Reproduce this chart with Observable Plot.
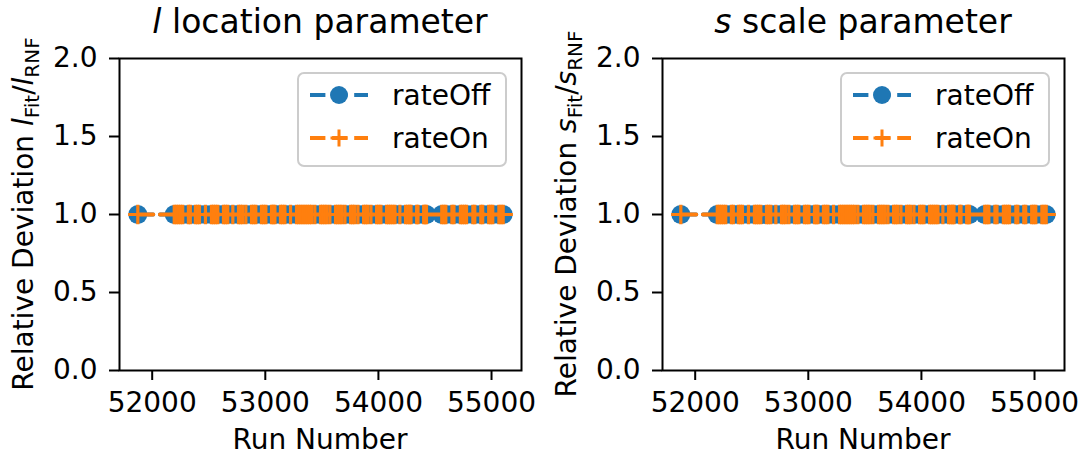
<!DOCTYPE html>
<html><head><meta charset="utf-8">
<script src="https://cdn.jsdelivr.net/npm/d3@7"></script>
<script src="https://cdn.jsdelivr.net/npm/@observablehq/plot@0.6"></script>
<style>
body{margin:0;background:#fff;font-family:"DejaVu Sans",sans-serif;}
#row{display:flex;width:1086px;height:462px;}
</style></head><body><div id="row"></div>
<script>
const runNumbers = [
  51873,
  52195, 52213, 52231, 52250, 52270, 52320, 52337, 52382, 52400, 52418,
  52471, 52524, 52542, 52560, 52580, 52630, 52648, 52668, 52713, 52763,
  52780, 52800, 52828, 52878, 52897, 52916, 52966, 52985, 53005, 53055,
  53070, 53085, 53134, 53153, 53173, 53223, 53276, 53295, 53314, 53333,
  53352, 53371, 53390, 53410, 53438, 53488, 53507, 53526, 53545, 53571,
  53621, 53640, 53659, 53678, 53704, 53754, 53772, 53790, 53819, 53869,
  53887, 53905, 53934, 53984, 54003, 54022, 54072, 54090, 54108, 54127,
  54146, 54190, 54240, 54258, 54276, 54288, 54338, 54350, 54400, 54413,
  54425,
  54560, 54578, 54596, 54650, 54668, 54725, 54743, 54761, 54779, 54835,
  54852, 54905, 54922, 54975, 54993, 55011, 55065, 55084, 55103
];
const locationRateOff = [
  1,
  1,1,1,1,1,1,1,1,1,1, 1,1,1,1,1,1,1,1,1,1, 1,1,1,1,1,1,1,1,1,1, 1,1,1,1,1,1,1,1,1,1,
  1,1,1,1,1,1,1,1,1,1, 1,1,1,1,1,1,1,1,1,1, 1,1,1,1,1,1,1,1,1,1, 1,1,1,1,1,1,1,1,1,1,
  1,
  1,1,1,1,1,1,1,1,1,1, 1,1,1,1,1,1,1,1,1
];
const locationRateOn = [
  1,
  1,1,1,1,1,1,1,1,1,1, 1,1,1,1,1,1,1,1,1,1, 1,1,1,1,1,1,1,1,1,1, 1,1,1,1,1,1,1,1,1,1,
  1,1,1,1,1,1,1,1,1,1, 1,1,1,1,1,1,1,1,1,1, 1,1,1,1,1,1,1,1,1,1, 1,1,1,1,1,1,1,1,1,1,
  1,
  1,1,1,1,1,1,1,1,1,1, 1,1,1,1,1,1,1,1,1
];
const scaleRateOff = [
  1,
  1,1,1,1,1,1,1,1,1,1, 1,1,1,1,1,1,1,1,1,1, 1,1,1,1,1,1,1,1,1,1, 1,1,1,1,1,1,1,1,1,1,
  1,1,1,1,1,1,1,1,1,1, 1,1,1,1,1,1,1,1,1,1, 1,1,1,1,1,1,1,1,1,1, 1,1,1,1,1,1,1,1,1,1,
  1,
  1,1,1,1,1,1,1,1,1,1, 1,1,1,1,1,1,1,1,1
];
const scaleRateOn = [
  1,
  1,1,1,1,1,1,1,1,1,1, 1,1,1,1,1,1,1,1,1,1, 1,1,1,1,1,1,1,1,1,1, 1,1,1,1,1,1,1,1,1,1,
  1,1,1,1,1,1,1,1,1,1, 1,1,1,1,1,1,1,1,1,1, 1,1,1,1,1,1,1,1,1,1, 1,1,1,1,1,1,1,1,1,1,
  1,
  1,1,1,1,1,1,1,1,1,1, 1,1,1,1,1,1,1,1,1
];
const xTicks = [52000, 53000, 54000, 55000];
const yTicks = [0, 0.5, 1.0, 1.5, 2.0];
const seriesNames = ["rateOff", "rateOn"];
const panelSymbols = ["l", "s"];
const panelTitles = [" location parameter", " scale parameter"];

const BLUE = "#1f77b4", ORANGE = "#ff7f0e";
const DASH = "15.4,6.7";
const FONT = "DejaVu Sans";

function makePanel(symbol, title, offVals, onVals) {
  const off = runNumbers.map((r, i) => ({run: r, value: offVals[i]}));
  const on = runNumbers.map((r, i) => ({run: r, value: onVals[i]}));
  const chart = Plot.plot({
    width: 543, height: 462,
    marginLeft: 119, marginRight: 22, marginTop: 58, marginBottom: 92,
    style: {fontFamily: FONT, fontSize: "28px", color: "black", background: "white", overflow: "visible"},
    x: {domain: [51711, 55265]},
    y: {domain: [0, 2]},
    marks: [
      Plot.line(off, {x: "run", y: "value", stroke: BLUE, strokeWidth: 4, strokeDasharray: DASH}),
      Plot.dot(off, {x: "run", y: "value", r: 9.5, fill: BLUE, stroke: "none"}),
      Plot.line(on, {x: "run", y: "value", stroke: ORANGE, strokeWidth: 4, strokeDasharray: DASH}),
      Plot.dot(on, {x: "run", y: "value", symbol: "plus", r: 6.3, fill: "none", stroke: ORANGE, strokeWidth: 3.2}),
      Plot.frame({stroke: "black", strokeWidth: 2}),
      Plot.axisX({ticks: xTicks, tickFormat: "d", tickSize: 10, tickPadding: 12, strokeWidth: 2, fontSize: 28, label: null}),
      Plot.axisY({ticks: yTicks, tickFormat: ".1f", tickSize: 10, tickPadding: 12, strokeWidth: 2, fontSize: 28, label: null})
    ]
  });
  const svg = d3.select(chart);
  const cx = 119 + (543 - 119 - 22) / 2;

  // title
  const t = svg.append("text").attr("x", cx).attr("y", 33).attr("text-anchor", "middle")
    .attr("fill", "black").style("font-size", "33px").style("font-family", FONT);
  t.append("tspan").attr("font-style", "italic").text(symbol);
  t.append("tspan").text(title);

  // x label
  svg.append("text").attr("x", cx).attr("y", 449).attr("text-anchor", "middle")
    .attr("fill", "black").style("font-size", "28px").style("font-family", FONT).text("Run Number");

  // y label
  const yl = svg.append("text").attr("transform", "translate(33,214) rotate(-90)")
    .attr("text-anchor", "middle").attr("fill", "black")
    .style("font-size", "28px").style("font-family", FONT);
  yl.append("tspan").text("Relative Deviation ");
  yl.append("tspan").attr("font-style", "italic").text(symbol);
  yl.append("tspan").attr("dy", 6).style("font-size", "20px").text("Fit");
  yl.append("tspan").attr("dy", -6).text("/");
  yl.append("tspan").attr("font-style", "italic").text(symbol);
  yl.append("tspan").attr("dy", 6).style("font-size", "20px").text("RNF");

  // legend
  const lg = svg.append("g");
  lg.append("rect").attr("x", 298).attr("y", 73).attr("width", 208).attr("height", 93).attr("rx", 6)
    .attr("fill", "white").attr("fill-opacity", 0.8).attr("stroke", "#cccccc").attr("stroke-width", 2);
  const rows = [{name: seriesNames[0], color: BLUE, y: 95}, {name: seriesNames[1], color: ORANGE, y: 138}];
  rows.forEach((row, k) => {
    lg.append("line").attr("x1", 310).attr("x2", 368).attr("y1", row.y).attr("y2", row.y)
      .attr("stroke", row.color).attr("stroke-width", 4).attr("stroke-dasharray", DASH);
    if (k === 0) {
      lg.append("circle").attr("cx", 339).attr("cy", row.y).attr("r", 9).attr("fill", row.color);
    } else {
      lg.append("path").attr("d", `M330.5,${row.y}H347.5M339,${row.y - 8.5}V${row.y + 8.5}`)
        .attr("stroke", row.color).attr("stroke-width", 3).attr("fill", "none");
    }
    lg.append("text").attr("x", 392).attr("y", row.y + 10).attr("text-anchor", "start").attr("fill", "black")
      .style("font-size", "28px").style("font-family", FONT).text(row.name);
  });
  return chart;
}

const row = document.getElementById("row");
row.appendChild(makePanel(panelSymbols[0], panelTitles[0], locationRateOff, locationRateOn));
row.appendChild(makePanel(panelSymbols[1], panelTitles[1], scaleRateOff, scaleRateOn));
</script>
</body></html>
